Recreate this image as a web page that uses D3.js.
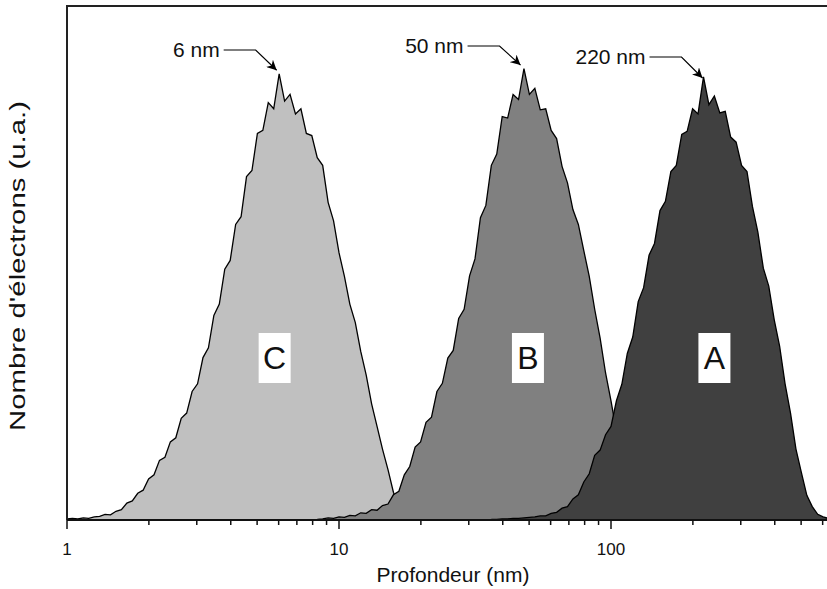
<!DOCTYPE html>
<html>
<head>
<meta charset="utf-8">
<script src="https://cdn.jsdelivr.net/npm/d3@7"></script>
<style>
  html, body { margin: 0; padding: 0; background: #fff; }
  svg { display: block; }
  text { font-family: "Liberation Sans", Arial, sans-serif; fill: #111; }
</style>
</head>
<body>
<svg id="chart" width="827" height="589"></svg>
<script>
// ---- DATA ----
// histogram bin centres (nm), shared by the three samples
const depthGrid = [
  1.000, 1.047, 1.096, 1.148, 1.202, 1.259, 1.318, 1.380, 1.445, 1.514,
  1.585, 1.660, 1.738, 1.820, 1.905, 1.995, 2.089, 2.188, 2.291, 2.399,
  2.512, 2.630, 2.754, 2.884, 3.020, 3.162, 3.311, 3.467, 3.631, 3.802,
  3.981, 4.169, 4.365, 4.571, 4.786, 5.012, 5.248, 5.495, 5.754, 6.026,
  6.310, 6.607, 6.918, 7.244, 7.586, 7.943, 8.318, 8.710, 9.120, 9.550,
  10.00, 10.47, 10.96, 11.48, 12.02, 12.59, 13.18, 13.80, 14.45, 15.14,
  15.85, 16.60, 17.38, 18.20, 19.05, 19.95, 20.89, 21.88, 22.91, 23.99,
  25.12, 26.30, 27.54, 28.84, 30.20, 31.62, 33.11, 34.67, 36.31, 38.02,
  39.81, 41.69, 43.65, 45.71, 47.86, 50.12, 52.48, 54.95, 57.54, 60.26,
  63.10, 66.07, 69.18, 72.44, 75.86, 79.43, 83.18, 87.10, 91.20, 95.50,
  100.0, 104.7, 109.6, 114.8, 120.2, 125.9, 131.8, 138.0, 144.5, 151.4,
  158.5, 166.0, 173.8, 182.0, 190.5, 199.5, 208.9, 218.8, 229.1, 239.9,
  251.2, 263.0, 275.4, 288.4, 302.0, 316.2, 331.1, 346.7, 363.1, 380.2,
  398.1, 416.9, 436.5, 457.1, 478.6, 501.2, 524.8, 549.5, 575.4, 602.6,
  631.0
];

// electron counts (arbitrary units), sample C starts at bin 0
const startC = 0;
const countsC = [
  2, 3, 2, 4, 3, 6, 7, 11, 10, 17,
  20, 33, 37, 52, 58, 80, 88, 116, 122, 152,
  160, 198, 208, 250, 265, 316, 335, 398, 420, 488,
  505, 575, 590, 668, 680, 752, 758, 812, 800, 868,
  815, 828, 790, 800, 752, 748, 705, 690, 618, 582,
  520, 474, 420, 384, 328, 282, 226, 182, 138, 98,
  54, 27, 8, 2, 0
];

// sample B starts at bin 46
const startB = 46;
const countsB = [
  1, 2, 4, 3, 6, 5, 9, 8, 14, 13,
  20, 19, 28, 31, 49, 56, 88, 104, 142, 152,
  190, 200, 250, 266, 315, 330, 392, 410, 475, 508,
  588, 612, 690, 712, 785, 782, 828, 818, 878, 828,
  840, 798, 800, 758, 742, 688, 656, 604, 575, 524,
  474, 410, 354, 286, 232, 172, 127, 80, 49, 21,
  8, 2, 0
];

// sample A starts at bin 78
const startA = 78;
const countsA = [
  1, 1, 2, 2, 3, 3, 4, 5, 6, 8,
  8, 13, 15, 23, 26, 41, 49, 74, 90, 126,
  136, 166, 182, 232, 264, 324, 356, 425, 452, 515,
  538, 602, 620, 678, 690, 750, 756, 800, 790, 862,
  808, 825, 792, 795, 745, 735, 690, 678, 610, 560,
  490, 455, 390, 338, 265, 208, 138, 92, 48, 26,
  11, 6, 3
];

const sampleNames = ["C", "B", "A"];
const sampleFills = ["#c0c0c0", "#808080", "#404040"];
const peakLabels = ["6 nm", "50 nm", "220 nm"];
const arrowTipDepths = [5.9, 46.5, 217];
const arrowTipCounts = [875, 885, 860];
const letterDepths = [5.8, 49.5, 240];
const xTickValues = [1, 10, 100];
const xTitle = "Profondeur (nm)";
const yTitle = "Nombre d'électrons (u.a.)";

// ---- CHART ----
const svg = d3.select("#chart");
const W = 827, H = 589;
const m = { left: 67, top: 6, bottom: 520 };

const x = d3.scaleLog().domain([1, 1000]).range([m.left, m.left + 272 * 3]);
const y = d3.scaleLinear().domain([0, 1000]).range([m.bottom, m.top]);

const series = [
  { name: "C", start: startC, counts: countsC },
  { name: "B", start: startB, counts: countsB },
  { name: "A", start: startA, counts: countsA }
].map((s, i) => ({
  ...s,
  fill: sampleFills[i],
  pts: s.counts.map((c, j) => ({ d: depthGrid[s.start + j], c }))
}));

const defs = svg.append("defs");
defs.append("clipPath").attr("id", "plotclip")
  .append("rect").attr("x", m.left).attr("y", m.top)
  .attr("width", W - m.left).attr("height", m.bottom - m.top);

const area = d3.area().x(p => x(p.d)).y0(y(0)).y1(p => y(p.c));
const line = d3.line().x(p => x(p.d)).y(p => y(p.c));

const g = svg.append("g").attr("clip-path", "url(#plotclip)");
series.forEach(s => {
  g.append("path").datum(s.pts).attr("d", area)
    .attr("fill", s.fill).attr("stroke", "none");
  g.append("path").datum(s.pts).attr("d", line)
    .attr("fill", "none").attr("stroke", "#000")
    .attr("stroke-width", 1.3).attr("stroke-linejoin", "miter");
});

// letter boxes
series.forEach((s, i) => {
  const cx = x(letterDepths[i]);
  const cy = 358;
  svg.append("rect").attr("x", cx - 16).attr("y", cy - 25)
    .attr("width", 32).attr("height", 50).attr("fill", "#fff");
  svg.append("text").attr("x", cx).attr("y", cy + 11)
    .attr("text-anchor", "middle").attr("font-size", 32)
    .text(sampleNames[i]);
});

// frame: top and left lines
svg.append("line").attr("x1", m.left).attr("x2", W)
  .attr("y1", m.top).attr("y2", m.top)
  .attr("stroke", "#222").attr("stroke-width", 2);
svg.append("line").attr("x1", m.left).attr("x2", m.left)
  .attr("y1", m.top - 1).attr("y2", m.bottom)
  .attr("stroke", "#222").attr("stroke-width", 2);

// bottom axis
const minorTicks = [];
[1, 10, 100].forEach(dec => {
  for (let k = 2; k <= 9; k++) minorTicks.push(dec * k);
});
const ax = svg.append("g").attr("transform", `translate(0,${m.bottom})`);
ax.append("line").attr("x1", m.left).attr("x2", W)
  .attr("stroke", "#111").attr("stroke-width", 2);
ax.selectAll(".minor").data(minorTicks.filter(v => x(v) <= W)).join("line")
  .attr("x1", d => x(d)).attr("x2", d => x(d)).attr("y1", 0).attr("y2", 5)
  .attr("stroke", "#111").attr("stroke-width", 1.5);
ax.selectAll(".major").data(xTickValues).join("line")
  .attr("x1", d => x(d)).attr("x2", d => x(d)).attr("y1", 0).attr("y2", 9)
  .attr("stroke", "#111").attr("stroke-width", 1.5);
ax.selectAll(".lbl").data(xTickValues).join("text")
  .attr("x", d => x(d)).attr("y", 35).attr("text-anchor", "middle")
  .attr("font-size", 17).text(d => d);

svg.append("text").attr("x", 453).attr("y", 582).attr("text-anchor", "middle")
  .attr("font-size", 21).text(xTitle);
svg.append("text").attr("transform", "translate(25,266) rotate(-90)")
  .attr("text-anchor", "middle").attr("font-size", 22)
  .attr("textLength", 330).attr("lengthAdjust", "spacingAndGlyphs")
  .text(yTitle);

// peak annotations with arrows
defs.append("marker").attr("id", "arrow")
  .attr("viewBox", "0 0 10 10").attr("refX", 10).attr("refY", 5)
  .attr("markerWidth", 10).attr("markerHeight", 10).attr("markerUnits", "userSpaceOnUse")
  .attr("orient", "auto")
  .append("path").attr("d", "M0,0 L10,5 L0,10 L3,5 Z").attr("fill", "#000");

const annY = [50, 46, 57];
peakLabels.forEach((lab, i) => {
  const tipX = x(arrowTipDepths[i]);
  const tipY = y(arrowTipCounts[i]);
  const elbowX = tipX - 21;
  const ly = annY[i];
  const startX = elbowX - 32;
  svg.append("path")
    .attr("d", `M${startX},${ly} L${elbowX},${ly} L${tipX},${tipY}`)
    .attr("fill", "none").attr("stroke", "#000").attr("stroke-width", 1.2)
    .attr("marker-end", "url(#arrow)");
  svg.append("text").attr("x", startX - 4).attr("y", ly + 7)
    .attr("text-anchor", "end").attr("font-size", 21).text(lab);
});
</script>
</body>
</html>
